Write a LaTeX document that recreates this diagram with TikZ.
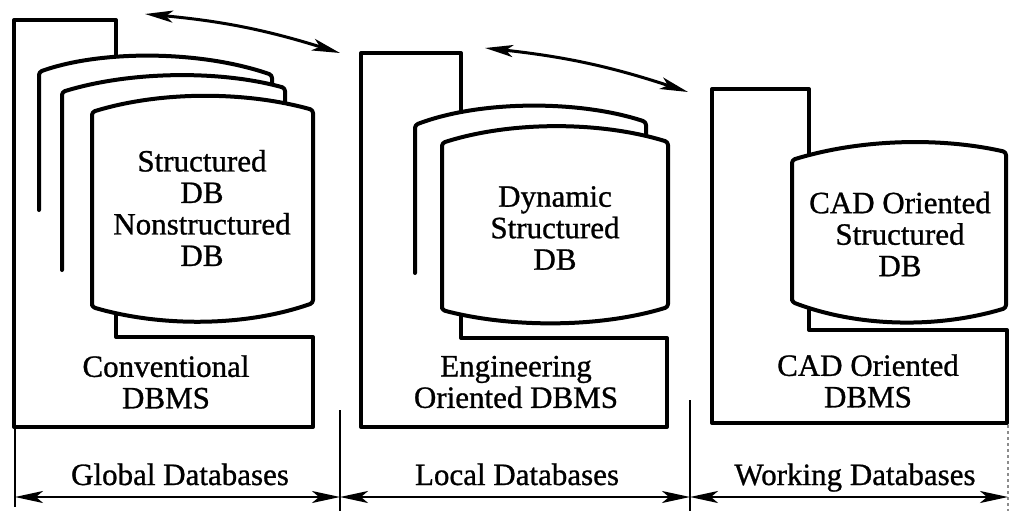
\documentclass[tikz,border=0pt]{standalone}
\usepackage{fontspec}
\setmainfont{Liberation Serif}
\newfontfamily\labelfont{Liberation Serif}[FakeBold=0.9]
\usetikzlibrary{arrows.meta}
\begin{document}
\begin{tikzpicture}[x=1pt,y=-1pt,
  outline/.style={line width=4pt, line join=round, line cap=round},
  card/.style={outline, fill=white, rounded corners=3pt},
  cover/.style={fill=white, draw=none},
  lbl/.style={font=\labelfont\fontsize{31}{31.5}\selectfont, align=center, inner sep=0pt},
  tip/.tip={Stealth[length=28pt,width=12pt,inset=7pt]},
  dimline/.style={line width=2.2pt, tip-tip},
  tickline/.style={line width=1.6pt},
  link/.style={line width=3pt, tip-tip}]
\useasboundingbox (0,0) rectangle (1010,511);

% ---------------- Global databases ----------------
\draw[outline] (14,427) -- (14,20) -- (116,20) -- (116,337) -- (313,337) -- (313,427) -- cycle;
% back sheet
\fill[cover] (39,210) -- (39,72) .. controls (100,50) and (200,50) .. (272,75) -- (272,210) -- cycle;
\draw[outline, rounded corners=3pt] (39,210) -- (39,72) .. controls (100,50) and (200,50) .. (272,75) -- (272,140);
% middle sheet
\fill[cover] (62,270) -- (62,92) .. controls (130,71) and (220,70) .. (285,88) -- (285,270) -- cycle;
\draw[outline, rounded corners=3pt] (62,270) -- (62,92) .. controls (130,71) and (220,70) .. (285,88) -- (285,150);
% front sheet
\draw[card] (92,307) -- (92,112) .. controls (160,91) and (245,91) .. (313,110) -- (313,303)
  .. controls (245,327) and (160,327) .. cycle;
\node[lbl] (gdb) at (202,208) {Structured\\DB\\Nonstructured\\DB};
\node[lbl] (gdbms) at (166,382) {Conventional\\DBMS};

% ---------------- Local databases ----------------
\draw[outline] (361,427) -- (361,53) -- (461,53) -- (461,338) -- (667,338) -- (667,427) -- cycle;
\fill[cover] (415,273) -- (415,125) .. controls (480,100) and (580,100) .. (646,122) -- (646,273) -- cycle;
\draw[outline, rounded corners=3pt] (415,273) -- (415,125) .. controls (480,100) and (580,100) .. (646,122) -- (646,170);
\draw[card] (442,310) -- (442,143) .. controls (510,121) and (600,121) .. (668,142) -- (668,307)
  .. controls (600,328) and (510,328) .. cycle;
\node[lbl] (ldb) at (555,228) {Dynamic\\Structured\\DB};
\node[lbl] (ldbms) at (516,382) {Engineering\\Oriented DBMS};

% ---------------- Working databases ----------------
\draw[outline] (712,423) -- (712,89) -- (809,89) -- (809,330) -- (1007,330) -- (1007,423) -- cycle;
\draw[card] (792,302) -- (792,160) .. controls (860,139) and (940,137) .. (1006,152) -- (1006,308)
  .. controls (940,328) and (860,328) .. cycle;
\node[lbl] (wdb) at (900,234) {CAD Oriented\\Structured\\DB};
\node[lbl] (wdbms) at (868,381) {CAD Oriented\\DBMS};

% ---------------- transfer arrows ----------------
\coordinate (ga) at (145,14);
\coordinate (gb) at (340,53);
\coordinate (la) at (485,48);
\coordinate (lb) at (688,92);
\draw[link] (ga) to[bend left=6] (gb);
\draw[link] (la) to[bend left=6] (lb);

% ---------------- extent of each group ----------------
\coordinate (d0) at (15,497);
\coordinate (d1) at (340,497);
\coordinate (d2) at (690,497);
\coordinate (d3) at (1008,497);
\draw[tickline] (15,427) -- (15,507);
\draw[tickline] (340,410) -- (340,511);
\draw[tickline] (690,400) -- (690,511);
\draw[tickline, black!45, dashed] (1008,425) -- (1008,511);
\draw[dimline] (d0) -- (d1);
\draw[dimline] (d1) -- (d2);
\draw[dimline] (d2) -- (d3);
\node[lbl, anchor=base] (glab) at (180,485) {Global Databases};
\node[lbl, anchor=base] (llab) at (517,485) {Local Databases};
\node[lbl, anchor=base] (wlab) at (855,485) {Working Databases};
\end{tikzpicture}
\end{document}
